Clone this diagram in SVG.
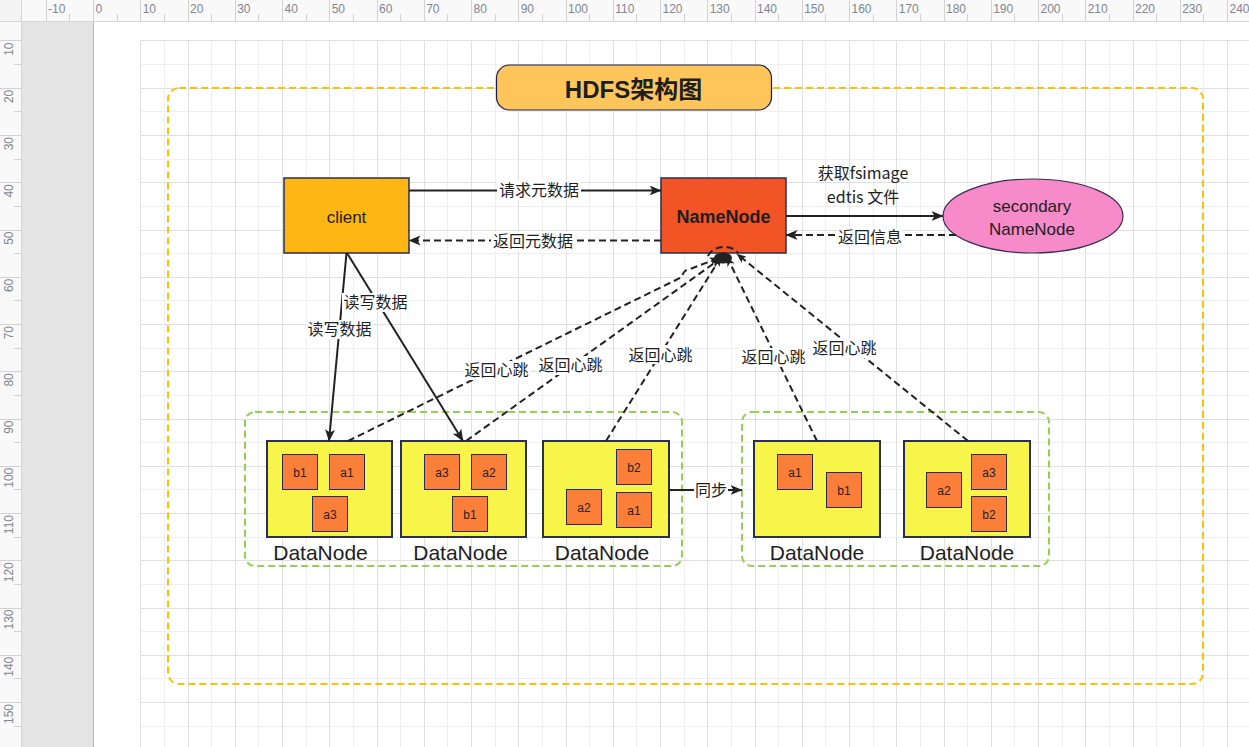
<svg xmlns="http://www.w3.org/2000/svg" width="1249" height="747" viewBox="0 0 1249 747">
<defs>
<style>
.rl{font-family:"Liberation Sans","DejaVu Sans",sans-serif;font-size:12px;fill:#7f8791}
.t{font-family:"Liberation Sans","Noto Sans CJK SC",sans-serif;fill:#1e1e1e}
.cj{font-family:"Noto Sans CJK SC","Liberation Sans",sans-serif;font-size:16px;fill:#1e1e1e;text-anchor:middle}
.node{stroke:#2b2f52;stroke-width:1.5}
.dn{fill:#f8f54a;stroke:#2a2f4e;stroke-width:2}
.blk{fill:#fc7f39;stroke:#2b2b55;stroke-width:1}
.bt{font-family:"Liberation Sans","Noto Sans CJK SC",sans-serif;font-size:12px;fill:#222;text-anchor:middle}
.dl{font-family:"Liberation Sans","Noto Sans CJK SC",sans-serif;font-size:21px;fill:#1e1e1e;text-anchor:middle}
.ln{fill:none;stroke:#222;stroke-width:2}
.dash{stroke-dasharray:7 4}
.lb{fill:#ffffff}
</style>
<marker id="ah" viewBox="0 0 12 10" refX="11.5" refY="5" markerWidth="12" markerHeight="10" orient="auto" markerUnits="userSpaceOnUse">
<path d="M0,0 L12,5 L0,10 L3,5 z" fill="#222"/>
</marker>
<marker id="ahs" viewBox="0 0 12 10" refX="11.5" refY="5" markerWidth="10" markerHeight="8" orient="auto" markerUnits="userSpaceOnUse">
<path d="M0,0 L12,5 L0,10 L3,5 z" fill="#222"/>
</marker>
</defs>

<g id="editor">
<rect x="0" y="0" width="1249" height="747" fill="#ffffff"/>
<rect x="21" y="21" width="72" height="726" fill="#e4e4e4"/>
<line x1="93.5" y1="21" x2="93.5" y2="747" stroke="#b8b8b8" stroke-width="1"/>
<path d="M164.5,41V747M211.5,41V747M258.5,41V747M306.5,41V747M353.5,41V747M400.5,41V747M447.5,41V747M495.5,41V747M542.5,41V747M589.5,41V747M636.5,41V747M684.5,41V747M731.5,41V747M778.5,41V747M825.5,41V747M873.5,41V747M920.5,41V747M967.5,41V747M1014.5,41V747M1062.5,41V747M1109.5,41V747M1156.5,41V747M1203.5,41V747M141,64.5H1249M141,111.5H1249M141,159.5H1249M141,206.5H1249M141,253.5H1249M141,300.5H1249M141,348.5H1249M141,395.5H1249M141,442.5H1249M141,489.5H1249M141,537.5H1249M141,584.5H1249M141,631.5H1249M141,678.5H1249M141,726.5H1249" stroke="#efefef" stroke-width="1" fill="none"/>
<path d="M140.5,41V747M188.5,41V747M235.5,41V747M282.5,41V747M329.5,41V747M377.5,41V747M424.5,41V747M471.5,41V747M518.5,41V747M566.5,41V747M613.5,41V747M660.5,41V747M707.5,41V747M755.5,41V747M802.5,41V747M849.5,41V747M896.5,41V747M944.5,41V747M991.5,41V747M1038.5,41V747M1085.5,41V747M1133.5,41V747M1180.5,41V747M1227.5,41V747M140,40.5H1249M141,88.5H1249M141,135.5H1249M141,182.5H1249M141,230.5H1249M141,277.5H1249M141,324.5H1249M141,371.5H1249M141,419.5H1249M141,466.5H1249M141,513.5H1249M141,560.5H1249M141,608.5H1249M141,655.5H1249M141,702.5H1249" stroke="#e0e0e0" stroke-width="1" fill="none"/>

<rect x="0" y="0" width="1249" height="21" fill="#f9f9f9"/>
<rect x="0" y="0" width="21" height="747" fill="#f9f9f9"/>
<rect x="0" y="0" width="21" height="21" fill="#f3f3f3"/>
<line x1="0" y1="21.5" x2="1249" y2="21.5" stroke="#d6d6d6"/>
<line x1="21.5" y1="0" x2="21.5" y2="747" stroke="#d6d6d6"/>
<path d="M46.5,0V21M93.5,0V21M140.5,0V21M188.5,0V21M235.5,0V21M282.5,0V21M329.5,0V21M377.5,0V21M424.5,0V21M471.5,0V21M518.5,0V21M566.5,0V21M613.5,0V21M660.5,0V21M707.5,0V21M755.5,0V21M802.5,0V21M849.5,0V21M896.5,0V21M944.5,0V21M991.5,0V21M1038.5,0V21M1085.5,0V21M1133.5,0V21M1180.5,0V21M1227.5,0V21M69.5,14V21M117.5,14V21M164.5,14V21M211.5,14V21M258.5,14V21M306.5,14V21M353.5,14V21M400.5,14V21M447.5,14V21M495.5,14V21M542.5,14V21M589.5,14V21M636.5,14V21M684.5,14V21M731.5,14V21M778.5,14V21M825.5,14V21M873.5,14V21M920.5,14V21M967.5,14V21M1014.5,14V21M1062.5,14V21M1109.5,14V21M1156.5,14V21M1203.5,14V21" stroke="#d2d2d2" stroke-width="1" fill="none"/>
<path d="M0,40.5H21M0,88.5H21M0,135.5H21M0,182.5H21M0,230.5H21M0,277.5H21M0,324.5H21M0,371.5H21M0,419.5H21M0,466.5H21M0,513.5H21M0,560.5H21M0,608.5H21M0,655.5H21M0,702.5H21M14,64.5H21M14,111.5H21M14,159.5H21M14,206.5H21M14,253.5H21M14,300.5H21M14,348.5H21M14,395.5H21M14,442.5H21M14,489.5H21M14,537.5H21M14,584.5H21M14,631.5H21M14,678.5H21M14,726.5H21" stroke="#d2d2d2" stroke-width="1" fill="none"/>
<g class="rl">
<text x="48" y="13">-10</text><text x="95.5" y="13">0</text><text x="142.7" y="13">10</text><text x="190" y="13">20</text><text x="237.2" y="13">30</text><text x="284.5" y="13">40</text><text x="331.7" y="13">50</text><text x="379" y="13">60</text><text x="426.2" y="13">70</text><text x="473.5" y="13">80</text><text x="520.7" y="13">90</text><text x="568" y="13">100</text><text x="615.2" y="13">110</text><text x="662.5" y="13">120</text><text x="709.7" y="13">130</text><text x="757" y="13">140</text><text x="804.2" y="13">150</text><text x="851.5" y="13">160</text><text x="898.7" y="13">170</text><text x="946" y="13">180</text><text x="993.2" y="13">190</text><text x="1040.5" y="13">200</text><text x="1087.7" y="13">210</text><text x="1135" y="13">220</text><text x="1182.2" y="13">230</text><text x="1229.5" y="13">240</text>
</g>
<g class="rl" text-anchor="end">
<text transform="translate(12.5,42.5) rotate(-90)">10</text>
<text transform="translate(12.5,89.7) rotate(-90)">20</text>
<text transform="translate(12.5,137) rotate(-90)">30</text>
<text transform="translate(12.5,184.2) rotate(-90)">40</text>
<text transform="translate(12.5,231.5) rotate(-90)">50</text>
<text transform="translate(12.5,278.7) rotate(-90)">60</text>
<text transform="translate(12.5,326) rotate(-90)">70</text>
<text transform="translate(12.5,373.2) rotate(-90)">80</text>
<text transform="translate(12.5,420.5) rotate(-90)">90</text>
<text transform="translate(12.5,467.7) rotate(-90)">100</text>
<text transform="translate(12.5,515) rotate(-90)">110</text>
<text transform="translate(12.5,562.2) rotate(-90)">120</text>
<text transform="translate(12.5,609.5) rotate(-90)">130</text>
<text transform="translate(12.5,656.7) rotate(-90)">140</text>
<text transform="translate(12.5,704) rotate(-90)">150</text>
</g>
</g>

<g id="hdfs-frame">
<rect x="168" y="88" width="1035" height="596" rx="11" ry="11" fill="none" stroke="#ffc000" stroke-width="2" stroke-dasharray="7 4"/>
</g>
<g id="group-left">
<rect x="245" y="412" width="437" height="154" rx="10" ry="10" fill="none" stroke="#92d050" stroke-width="2" stroke-dasharray="7 4"/>
</g>
<g id="group-right">
<rect x="742" y="412" width="307" height="154" rx="10" ry="10" fill="none" stroke="#92d050" stroke-width="2" stroke-dasharray="7 4"/>
</g>

<g id="title">
<rect x="496.5" y="65" width="275" height="45" rx="13" ry="13" fill="#fec55b" stroke="#1c1f4a" stroke-width="1.2"/>
<text class="t" x="633.5" y="97.5" font-size="24" font-weight="bold" text-anchor="middle">HDFS架构图</text>
</g>

<g id="client">
<rect class="node" x="284" y="178" width="125" height="75" fill="#fdb614"/>
<text class="t" x="346.5" y="222.5" font-size="17" text-anchor="middle">client</text>
</g>

<g id="namenode">
<rect class="node" x="661" y="178" width="125" height="75" fill="#f25426"/>
<text class="t" x="723.5" y="223" font-size="18" font-weight="bold" text-anchor="middle">NameNode</text>
</g>

<g id="secondary-namenode">
<ellipse cx="1033" cy="216" rx="90" ry="37" fill="#f78ac9" stroke="#3a2d5a" stroke-width="1.2"/>
<text class="t" x="1032" y="211.5" font-size="17" text-anchor="middle">secondary</text>
<text class="t" x="1032" y="235" font-size="17" text-anchor="middle">NameNode</text>
</g>

<g id="datanode-1">
<rect class="dn" x="267" y="441" width="125" height="96"/>
<rect class="blk" x="282.5" y="454.5" width="35" height="35"/><text class="bt" x="300" y="476.5">b1</text>
<rect class="blk" x="329.5" y="454.5" width="35" height="35"/><text class="bt" x="347" y="476.5">a1</text>
<rect class="blk" x="312.5" y="496.5" width="35" height="35"/><text class="bt" x="330" y="518.5">a3</text>
<text class="dl" x="320.5" y="560">DataNode</text>
</g>
<g id="datanode-2">
<rect class="dn" x="401" y="441" width="125" height="96"/>
<rect class="blk" x="424.5" y="454.5" width="35" height="35"/><text class="bt" x="442" y="476.5">a3</text>
<rect class="blk" x="471.5" y="454.5" width="35" height="35"/><text class="bt" x="489" y="476.5">a2</text>
<rect class="blk" x="452.5" y="496.5" width="35" height="35"/><text class="bt" x="470" y="518.5">b1</text>
<text class="dl" x="460.5" y="560">DataNode</text>
</g>
<g id="datanode-3">
<rect class="dn" x="543" y="441" width="126" height="96"/>
<rect class="blk" x="616.5" y="449.5" width="35" height="35"/><text class="bt" x="634" y="471.5">b2</text>
<rect class="blk" x="566.5" y="489.5" width="35" height="35"/><text class="bt" x="584" y="511.5">a2</text>
<rect class="blk" x="616.5" y="492.5" width="35" height="35"/><text class="bt" x="634" y="514.5">a1</text>
<text class="dl" x="602" y="560">DataNode</text>
</g>
<g id="datanode-4">
<rect class="dn" x="754" y="441" width="126" height="96"/>
<rect class="blk" x="777.5" y="454.5" width="35" height="35"/><text class="bt" x="795" y="476.5">a1</text>
<rect class="blk" x="826.5" y="472.5" width="35" height="35"/><text class="bt" x="844" y="494.5">b1</text>
<text class="dl" x="817" y="560">DataNode</text>
</g>
<g id="datanode-5">
<rect class="dn" x="904" y="441" width="126" height="96"/>
<rect class="blk" x="971.5" y="454.5" width="35" height="35"/><text class="bt" x="989" y="476.5">a3</text>
<rect class="blk" x="926.5" y="472.5" width="35" height="35"/><text class="bt" x="944" y="494.5">a2</text>
<rect class="blk" x="971.5" y="496.5" width="35" height="35"/><text class="bt" x="989" y="518.5">b2</text>
<text class="dl" x="967" y="560">DataNode</text>
</g>

<g id="connectors">
<path class="ln" d="M409,190.5 L661,190.5" marker-end="url(#ah)"/>
<path class="ln dash" d="M661,240.5 L409,240.5" marker-end="url(#ah)"/>
<path class="ln" d="M786,216 L943,216" marker-end="url(#ah)"/>
<path class="ln dash" d="M956,235 L786,235" marker-end="url(#ah)"/>
<path class="ln" d="M346.5,253 L329,441" marker-end="url(#ah)"/>
<path class="ln" d="M347,253 L463,441" marker-end="url(#ah)"/>
<path class="ln" d="M669,490 L742,490" marker-end="url(#ah)"/>
<path class="ln dash" d="M348,441 L682,277 Q683,270 690,269 L719,258" marker-end="url(#ahs)"/>
<path class="ln dash" d="M466,441 L720,259" marker-end="url(#ahs)"/>
<path class="ln dash" d="M606,441 L721,257" marker-end="url(#ahs)"/>
<path class="ln dash" d="M817,441 L727,257" marker-end="url(#ahs)"/>
<path class="ln dash" d="M968,441 L737,254" marker-end="url(#ahs)"/>
<path class="ln dash" d="M708,256 C712,246 731,243 738,253"/>
<ellipse cx="723" cy="258" rx="9" ry="5.5" fill="#222"/>

<rect class="lb" x="497" y="181" width="84" height="19"/>
<text class="cj" x="539" y="196">请求元数据</text>
<rect class="lb" x="491" y="232" width="84" height="19"/>
<text class="cj" x="533" y="247">返回元数据</text>
<text class="cj" x="863" y="179">获取fsimage</text>
<text class="cj" x="863" y="203">edtis 文件</text>
<rect class="lb" x="837" y="228" width="66" height="18"/>
<text class="cj" x="870" y="243">返回信息</text>
<rect class="lb" x="306" y="320" width="67" height="19"/>
<text class="cj" x="339.5" y="335">读写数据</text>
<rect class="lb" x="342" y="293" width="67" height="19"/>
<text class="cj" x="375.5" y="308">读写数据</text>
<rect class="lb" x="463" y="361" width="67" height="19"/>
<text class="cj" x="496.5" y="376">返回心跳</text>
<rect class="lb" x="537" y="356" width="67" height="19"/>
<text class="cj" x="570.5" y="371">返回心跳</text>
<rect class="lb" x="627" y="345" width="67" height="19"/>
<text class="cj" x="660.5" y="360.5">返回心跳</text>
<rect class="lb" x="740" y="348" width="67" height="19"/>
<text class="cj" x="773.5" y="363">返回心跳</text>
<rect class="lb" x="811" y="339" width="67" height="19"/>
<text class="cj" x="844.5" y="354">返回心跳</text>
<rect class="lb" x="694" y="481" width="34" height="19"/>
<text class="cj" x="711" y="496">同步</text>
</g>
</svg>
